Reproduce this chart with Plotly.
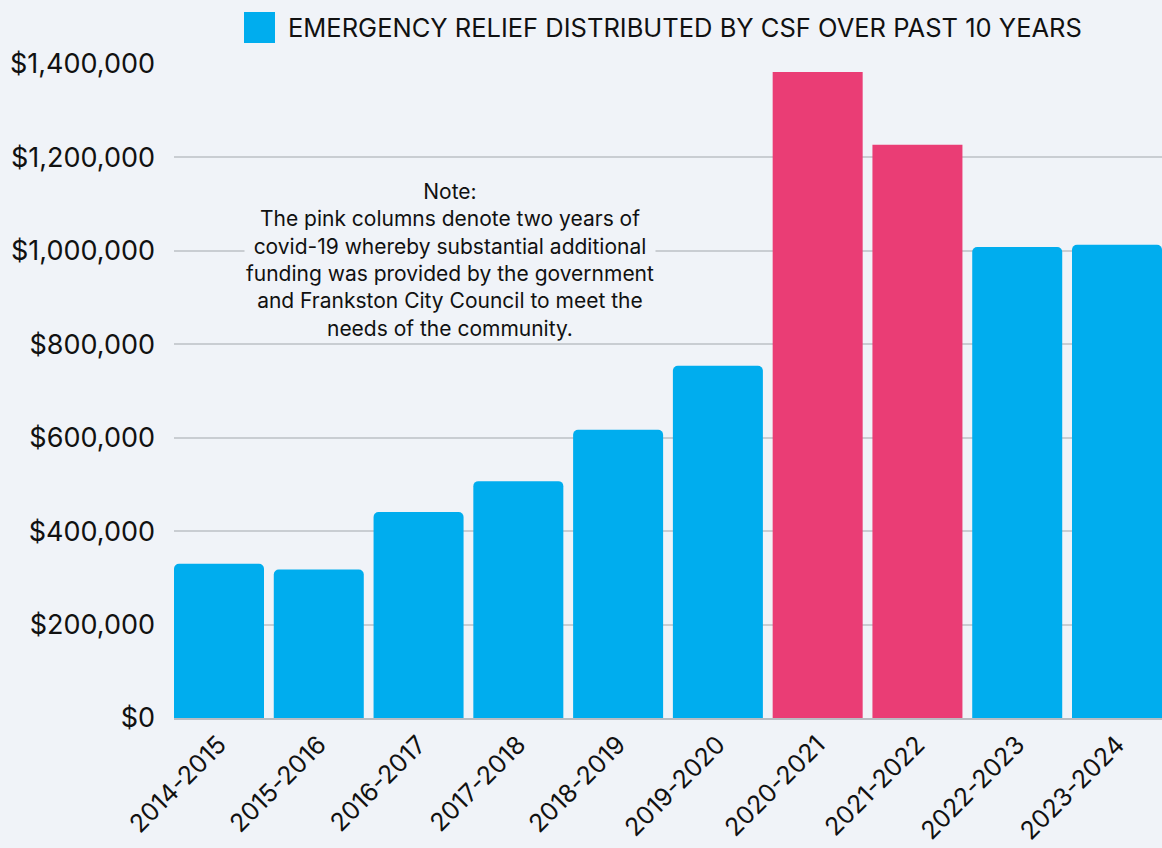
import plotly.graph_objects as go

years = ["2014-2015", "2015-2016", "2016-2017", "2017-2018", "2018-2019",
         "2019-2020", "2020-2021", "2021-2022", "2022-2023", "2023-2024"]
relief = [330000, 318000, 441000, 507000, 617000, 754000, 1383000, 1227000, 1008000, 1013000]
covid_years = ["2020-2021", "2021-2022"]

tick_vals = [0, 200000, 400000, 600000, 800000, 1000000, 1200000, 1400000]
tick_text = ["$0", "$200,000", "$400,000", "$600,000", "$800,000", "$1,000,000", "$1,200,000", "$1,400,000"]

legend_text = "EMERGENCY RELIEF DISTRIBUTED BY CSF OVER PAST 10 YEARS"
note_text = ("Note:<br>The pink columns denote two years of<br>covid-19 whereby substantial additional<br>"
             "funding was provided by the government<br>and Frankston City Council to meet the<br>needs of the community.")

BLUE = "#00ADEE"
PINK = "#EA3D75"
BG = "#F0F3F8"
FONT = "Inter, Lato, sans-serif"
GAP = 0.098

blue_y = [v if y not in covid_years else None for y, v in zip(years, relief)]
pink_y = [v if y in covid_years else None for y, v in zip(years, relief)]

fig = go.Figure()
fig.add_trace(go.Bar(x=years, y=blue_y, marker=dict(color=BLUE, cornerradius=5, line=dict(width=0)),
                     name=legend_text, showlegend=False))
fig.add_trace(go.Bar(x=years, y=pink_y, marker=dict(color=PINK, cornerradius=0, line=dict(width=0)),
                     name="covid", showlegend=False))

fig.update_layout(
    width=1162, height=848,
    margin=dict(l=174, r=0, t=64, b=130),
    paper_bgcolor=BG, plot_bgcolor=BG,
    barmode="overlay", bargap=GAP,
    font=dict(family=FONT, color="#111111"),
    xaxis=dict(tickangle=-45, tickfont=dict(size=25, family=FONT, color="#111111"),
               range=[-0.5 + GAP / 2, len(years) - 0.5 - GAP / 2],
               showline=True, linecolor="#B8BCC2", linewidth=2, ticks="", showgrid=False),
    yaxis=dict(range=[0, 1400000], tickvals=tick_vals, ticktext=tick_text,
               tickfont=dict(size=27, family=FONT, color="#111111"),
               gridcolor="#C9CDD2", gridwidth=1.5, zeroline=False, ticks="", ticklabelstandoff=18),
    shapes=[dict(type="rect", xref="paper", yref="paper",
                 x0=(244 - 174) / 988, x1=(275 - 174) / 988,
                 y0=1 + (64 - 43) / 654, y1=1 + (64 - 12) / 654,
                 fillcolor=BLUE, line=dict(width=0))],
    annotations=[
        dict(text=legend_text, xref="paper", yref="paper",
             x=(286 - 174) / 988, y=1 + (64 - 28) / 654, xanchor="left", yanchor="middle",
             showarrow=False, font=dict(size=25.5, family=FONT, color="#111111")),
        dict(text=note_text, xref="paper", yref="paper",
             x=(450 - 174) / 988, y=1 - (177 - 64) / 654, xanchor="center", yanchor="top",
             showarrow=False, align="center", bgcolor=BG,
             font=dict(size=21, family=FONT, color="#111111")),
    ],
)

fig.write_html("out.html")
